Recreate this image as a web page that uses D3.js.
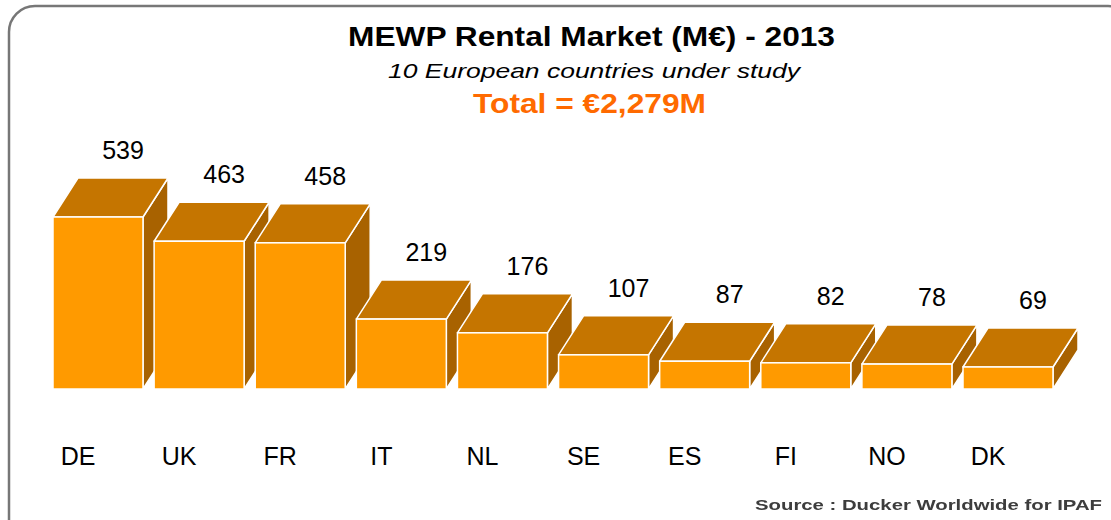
<!DOCTYPE html>
<html>
<head>
<meta charset="utf-8">
<script src="https://cdn.jsdelivr.net/npm/d3@7"></script>
<style>
  body { margin: 0; background: #fff; }
  svg text { font-family: Arial, "Liberation Sans", sans-serif; }
</style>
</head>
<body>
<svg id="chart" width="1111" height="520"></svg>
<script>
const countries = ["DE", "UK", "FR", "IT", "NL", "SE", "ES", "FI", "NO", "DK"]
const revenue = [539, 463, 458, 219, 176, 107, 87, 82, 78, 69]

const titleText = "MEWP Rental Market (M€) - 2013"
const subtitleText = "10 European countries under study"
const totalText = "Total = €2,279M"
const sourceText = "Source : Ducker Worldwide for IPAF"

let svg = d3.select("#chart")

let defs = svg.append("defs")
defs.append("filter")
    .attr("id", "soft")
    .append("feGaussianBlur")
    .attr("stdDeviation", 0.5)

// frame with rounded corners, right/bottom run off the picture
svg.append("rect")
    .attr("x", 9).attr("y", 6)
    .attr("width", 1125).attr("height", 540)
    .attr("rx", 26)
    .attr("fill", "none")
    .attr("stroke", "#777")
    .attr("stroke-width", 2.5)

let baseY = 389
let depthX = 25
let depthY = -39

var x = d3.scaleBand()
    .domain(countries)
    .range([53, 1053])
    .paddingInner(0.11)
    .paddingOuter(0)

var y = d3.scaleLinear()
    .domain([0, 539])
    .range([baseY, 217])

let data = countries.map((c, i) => ({ country: c, value: revenue[i] }))

let bars = svg.selectAll("g.bar")
    .data(data)
    .enter().append("g")
    .attr("class", "bar")

function poly(pts) {
  return "M" + pts.map(p => p.join(",")).join("L") + "Z"
}

// side face
bars.append("path")
    .attr("d", d => {
      let x0 = x(d.country) + x.bandwidth()
      let top = y(d.value)
      return poly([[x0, top], [x0 + depthX, top + depthY], [x0 + depthX, baseY + depthY], [x0, baseY]])
    })
    .attr("fill", "#a86200")
    .attr("stroke", "#fff")
    .attr("stroke-width", 1.5)
    .attr("stroke-linejoin", "round")

// top face
bars.append("path")
    .attr("d", d => {
      let x0 = x(d.country)
      let x1 = x0 + x.bandwidth()
      let top = y(d.value)
      return poly([[x0, top], [x0 + depthX, top + depthY], [x1 + depthX, top + depthY], [x1, top]])
    })
    .attr("fill", "#c57500")
    .attr("stroke", "#fff")
    .attr("stroke-width", 1.5)
    .attr("stroke-linejoin", "round")

// front face
bars.append("rect")
    .attr("x", d => x(d.country))
    .attr("y", d => y(d.value))
    .attr("width", x.bandwidth())
    .attr("height", d => baseY - y(d.value))
    .attr("fill", "#ff9a00")
    .attr("stroke", "#fff")
    .attr("stroke-width", 1.5)

// value labels
svg.selectAll("text.value")
    .data(data)
    .enter().append("text")
    .attr("class", "value")
    .attr("x", d => x(d.country) + x.bandwidth() / 2 + depthX)
    .attr("y", d => y(d.value) + depthY - 19)
    .attr("text-anchor", "middle")
    .attr("font-size", 25)
    .attr("fill", "#000")
    .text(d => d.value)

// category labels
svg.selectAll("text.cat")
    .data(countries)
    .enter().append("text")
    .attr("class", "cat")
    .attr("x", d => x(d) + x.bandwidth() / 2 - 20)
    .attr("y", 465)
    .attr("text-anchor", "middle")
    .attr("font-size", 25)
    .attr("fill", "#000")
    .text(d => d)

// titles (the original font is set wider, so stretch to its width)
svg.append("text")
    .attr("x", 348).attr("y", 46)
    .attr("font-size", 27)
    .attr("font-weight", "bold")
    .attr("fill", "#000")
    .attr("textLength", 487)
    .attr("lengthAdjust", "spacingAndGlyphs")
    .text(titleText)

svg.append("text")
    .attr("x", 388).attr("y", 78)
    .attr("font-size", 21)
    .attr("font-style", "italic")
    .attr("fill", "#000")
    .attr("textLength", 412)
    .attr("lengthAdjust", "spacingAndGlyphs")
    .text(subtitleText)

svg.append("text")
    .attr("x", 473).attr("y", 113)
    .attr("font-size", 28)
    .attr("font-weight", "bold")
    .attr("fill", "#ff6a00")
    .attr("textLength", 233)
    .attr("lengthAdjust", "spacingAndGlyphs")
    .text(totalText)

svg.append("text")
    .attr("x", 755).attr("y", 510)
    .attr("font-size", 15)
    .attr("font-weight", "bold")
    .attr("fill", "#3c3c3c")
    .attr("textLength", 347)
    .attr("lengthAdjust", "spacingAndGlyphs")
    .attr("filter", "url(#soft)")
    .text(sourceText)
</script>
</body>
</html>
